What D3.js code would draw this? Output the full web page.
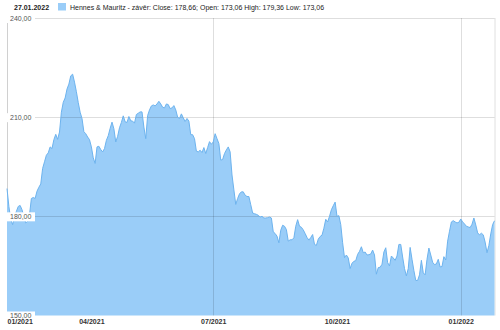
<!DOCTYPE html>
<html>
<head>
<meta charset="utf-8">
<script src="https://cdn.jsdelivr.net/npm/d3@7"></script>
<style>
  body { margin: 0; background: #fff; }
  svg { display: block; font-family: "Liberation Sans", Arial, sans-serif; }
</style>
</head>
<body>
<svg id="chart" width="500" height="330"></svg>
<script>
// ─── Data ────────────────────────────────────────────────────────────────────

// trading days (Mon–Fri) between these two dates, one close per day
const firstDay = '2021-01-28';
const lastDay  = '2022-01-27';

const closes = [
  188.4, 183, 179, 177.5, 180, 181.5, 183, 183.3, 182, 180,
  178, 178.5, 180.5, 185.4, 185.7, 185.4, 187.6, 188.8, 189.8, 194.5,
  196.5, 198.5, 199.2, 201, 200.5, 203.2, 204.8, 203.3, 205.5, 211.5,
  214.5, 215.8, 218.5, 220, 222.5, 223, 220.6, 217.7, 214.4, 211.5,
  209.6, 205.6, 205, 204, 203.2, 201, 197.7, 196, 201, 201.2,
  200.2, 199.5, 200.5, 203, 204.4, 206.6, 208.5, 206.5, 202.5, 204.2,
  206.8, 208.4, 210.4, 208.6, 208.4, 210.2, 208.9, 208.8, 208.2, 210.8,
  211.2, 211.6, 211.6, 207, 203.5, 210.5, 212.2, 213.4, 213.7, 213.4,
  214, 214.8, 214, 213, 212.8, 214, 213.8, 212.6, 212.8, 213.5,
  212.2, 210, 209.6, 211, 209.8, 208.7, 209.6, 208.8, 204.7, 204.7,
  203.5, 199.7, 199.5, 200, 199.3, 200.8, 199, 200.8, 202.6, 201.8,
  202.5, 205, 203.5, 202, 197, 197.2, 199, 200.1, 201, 199.5,
  192.5, 188, 183.6, 185.4, 186.8, 187.4, 187.4, 186.4, 186, 186,
  183.5, 181, 180.8, 180.6, 180.3, 179.8, 180, 179.5, 179.5, 179.6,
  179.8, 179.5, 175.3, 174.8, 174, 172, 175.8, 177.3, 177, 176,
  172.5, 172.9, 172.9, 173.5, 177, 179, 177, 176.7, 175.9, 174.8,
  173.6, 172.8, 173.6, 174.5, 171.5, 171.2, 173.1, 173.9, 174.3, 176.4,
  179.1, 178.3, 180, 182, 183.2, 184.3, 180, 180.2, 177.5, 172,
  167.5, 168.3, 167.4, 164.2, 165.8, 166.4, 166.6, 168.5, 169.4, 170.8,
  169, 169.2, 168.3, 168.4, 168.6, 169.8, 168.3, 162.5, 164.5, 164.6,
  165.5, 169.2, 170.5, 166, 165, 168, 167.4, 166.7, 168, 171.5,
  171.5, 167.7, 164.2, 162, 164.2, 170.6, 167, 163.6, 160.6, 160.6,
  162.3, 166.7, 162.9, 162.3, 167, 170.4, 168.3, 166.1, 165.4, 165.6,
  167, 164.7, 164.8, 167.8, 166.8, 172.5, 175.5, 178.3, 178.7, 178.3,
  178, 178.2, 179.2, 178.3, 177.7, 177, 176.8, 176.6, 177.6, 179.5,
  177.4, 175, 174.4, 174.9, 174.4, 172.2, 169, 171.2, 174.7, 177.5,
  178.66
];

const yTicks      = [150, 180, 210, 240];
const yGrid       = [180, 210, 240];
const tickMonths  = ['2021-04', '2021-07', '2021-10', '2022-01'];
const gridMonths  = ['2021-07', '2022-01'];

const legendDate  = '27.01.2022';
const legendLabel = 'Hennes & Mauritz - závěr: Close: 178,66; Open: 173,06 High: 179,36 Low: 173,06';

// ─── Setup ───────────────────────────────────────────────────────────────────

const parseDay   = d3.timeParse('%Y-%m-%d');
const parseMonth = d3.timeParse('%Y-%m');

const days = d3.timeDay
  .range(parseDay(firstDay), d3.timeDay.offset(parseDay(lastDay), 1))
  .filter(d => d.getDay() !== 0 && d.getDay() !== 6);

const n = Math.min(days.length, closes.length);
const data = closes.slice(0, n).map((v, i) => ({ date: days[i], v }));

const L = 7, R = 494.5, T = 18, B = 315.5;

const x = d3.scalePoint()
  .domain(data.map(d => d.date))
  .range([L, R]);

const y = d3.scaleLinear()
  .domain([150, 240])
  .range([B, T]);

const firstTrading = m => data.find(d => d.date >= parseMonth(m)).date;

const svg = d3.select('#chart');

// ─── Frame ───────────────────────────────────────────────────────────────────

svg.append('line')
  .attr('x1', L + 0.5).attr('x2', L + 0.5)
  .attr('y1', T).attr('y2', B)
  .attr('stroke', '#d0d0d0');

svg.append('line')
  .attr('x1', R + 0.5).attr('x2', R + 0.5)
  .attr('y1', T).attr('y2', B)
  .attr('stroke', '#e0e0e0');

// ─── Area + line ─────────────────────────────────────────────────────────────

const area = d3.area()
  .x(d => x(d.date))
  .y0(B)
  .y1(d => y(d.v));

const line = d3.line()
  .x(d => x(d.date))
  .y(d => y(d.v));

svg.append('path')
  .datum(data)
  .attr('d', area)
  .attr('fill', '#9acdf8');

// ─── Gridlines (drawn over the fill so they show through) ────────────────────

svg.append('g')
  .selectAll('line')
  .data(yGrid)
  .join('line')
  .attr('x1', L).attr('x2', R)
  .attr('y1', d => Math.round(y(d)) + 0.5)
  .attr('y2', d => Math.round(y(d)) + 0.5)
  .attr('stroke', 'rgba(0,0,0,0.13)');

svg.append('g')
  .selectAll('line')
  .data(gridMonths.map(firstTrading))
  .join('line')
  .attr('x1', d => Math.round(x(d)) + 0.5)
  .attr('x2', d => Math.round(x(d)) + 0.5)
  .attr('y1', T).attr('y2', B)
  .attr('stroke', 'rgba(0,0,0,0.13)');

svg.append('path')
  .datum(data)
  .attr('d', line)
  .attr('fill', 'none')
  .attr('stroke', '#6db3ee')
  .attr('stroke-width', 1);

// ─── Y axis labels ───────────────────────────────────────────────────────────

const yFmt = d => d3.format('.2f')(d).replace('.', ',');

const yAxis = svg.append('g')
  .attr('transform', `translate(${L + 3},0)`)
  .call(d3.axisRight(y).tickValues(yTicks).tickFormat(yFmt).tickSize(0).tickPadding(0));

yAxis.select('.domain').remove();

yAxis.selectAll('.tick').insert('rect', 'text')
  .attr('x', -3).attr('y', -4.5)
  .attr('width', 28).attr('height', 9)
  .attr('fill', '#fff');

yAxis.selectAll('text')
  .attr('fill', '#555')
  .attr('font-size', 7)
  .attr('font-family', '"Liberation Sans", Arial, sans-serif');

// ─── X axis labels ───────────────────────────────────────────────────────────

const xAxis = svg.append('g')
  .attr('transform', `translate(0,${B})`)
  .call(d3.axisBottom(x)
    .tickValues([data[0].date, ...tickMonths.map(firstTrading)])
    .tickFormat(d3.timeFormat('%m/%Y'))
    .tickSize(0)
    .tickPadding(4));

xAxis.select('.domain').remove();

xAxis.selectAll('text')
  .attr('fill', '#333')
  .attr('font-size', 7)
  .attr('font-weight', 'bold')
  .attr('font-family', '"Liberation Sans", Arial, sans-serif')
  .attr('text-anchor', (d, i) => i === 0 ? 'start' : 'middle');

// ─── Legend ──────────────────────────────────────────────────────────────────

svg.append('text')
  .attr('x', 14).attr('y', 9.5)
  .attr('font-size', 7)
  .attr('font-weight', 'bold')
  .attr('fill', '#222')
  .text(legendDate);

svg.append('rect')
  .attr('x', 58).attr('y', 3)
  .attr('width', 8).attr('height', 7.5)
  .attr('fill', '#9acdf8');

svg.append('text')
  .attr('x', 70).attr('y', 9.5)
  .attr('font-size', 7)
  .attr('fill', '#222')
  .text(legendLabel);
</script>
</body>
</html>
